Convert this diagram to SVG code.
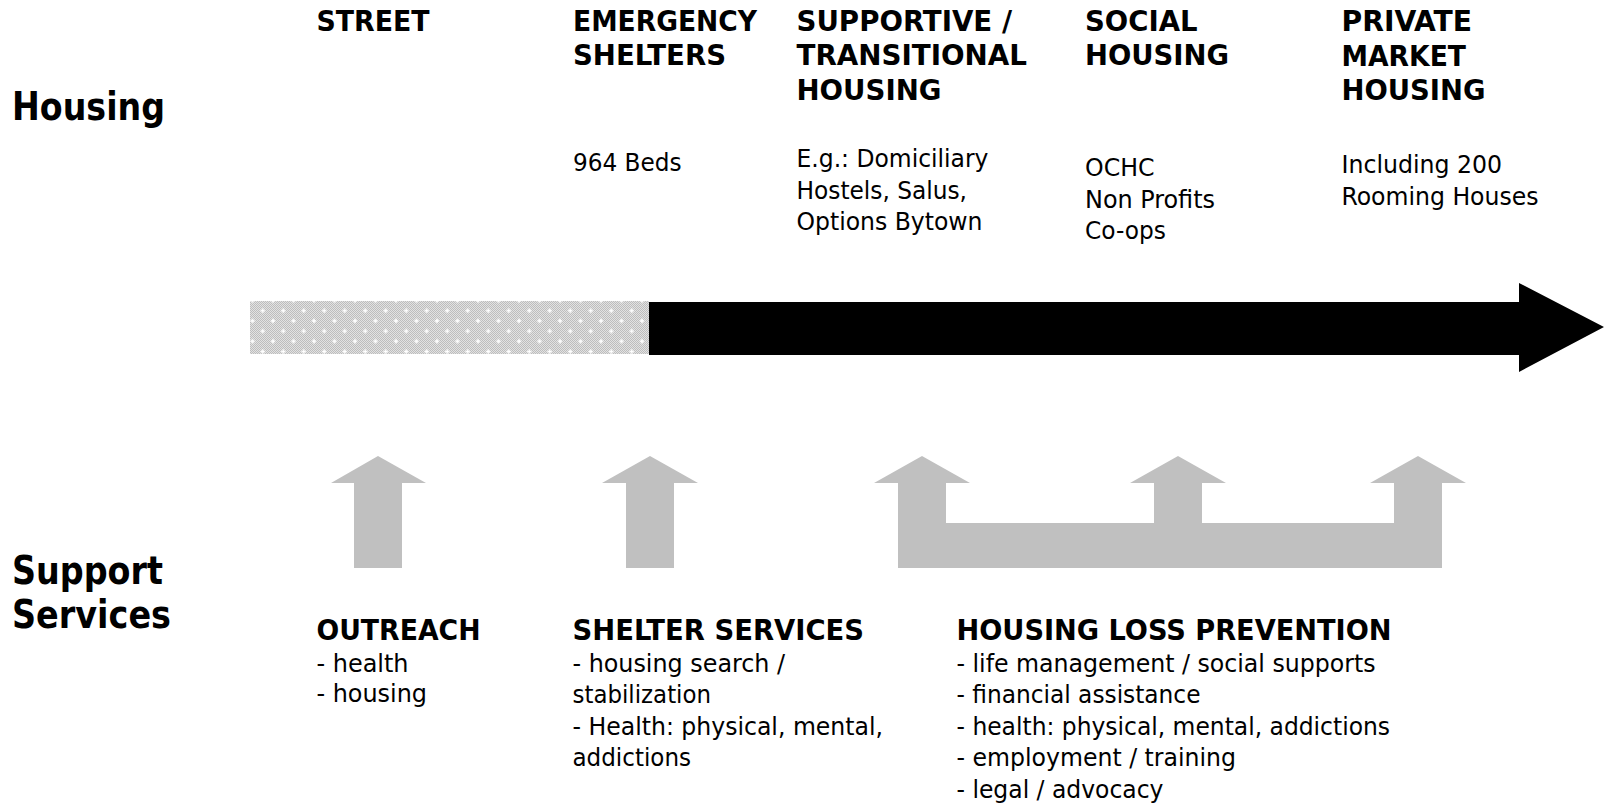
<svg xmlns="http://www.w3.org/2000/svg" width="1604" height="807" viewBox="0 0 1604 807">
  <style>
    text { font-family: "DejaVu Sans Condensed", "DejaVu Sans", sans-serif; fill: #000; }
    .big { font-size: 39px; font-weight: bold; }
    .hd { font-size: 29px; font-weight: bold; }
    .tx { font-size: 25px; }
    .grey { fill: #c0c0c0; }
  </style>
  <defs>
    <!-- fine dither for the street segment -->
    <pattern id="dither" patternUnits="userSpaceOnUse" x="0" y="0" width="2" height="2">
      <rect width="2" height="2" fill="#e2e2e2"/>
      <rect width="1" height="1" fill="#bdbdbd"/>
      <rect x="1" y="1" width="1" height="1" fill="#bdbdbd"/>
    </pattern>
    <!-- staggered white sparkles on top of the dither -->
    <pattern id="sparkle" patternUnits="userSpaceOnUse" x="252.5" y="300.5" width="20.5" height="20.4">
      <g fill="#ffffff">
        <rect x="9.5" y="8" width="1.5" height="4.4"/>
        <rect x="8" y="9.5" width="4.4" height="1.5"/>
        <rect x="-0.75" y="-2.2" width="1.5" height="4.4"/>
        <rect x="-2.2" y="-0.75" width="4.4" height="1.5"/>
        <rect x="19.75" y="-2.2" width="1.5" height="4.4"/>
        <rect x="18.3" y="-0.75" width="4.4" height="1.5"/>
        <rect x="-0.75" y="18.2" width="1.5" height="4.4"/>
        <rect x="-2.2" y="19.65" width="4.4" height="1.5"/>
        <rect x="19.75" y="18.2" width="1.5" height="4.4"/>
        <rect x="18.3" y="19.65" width="4.4" height="1.5"/>
      </g>
    </pattern>
  </defs>

  <rect width="1604" height="807" fill="#ffffff"/>

  <!-- row labels -->
  <g id="label-housing">
    <text class="big" x="12" y="119.5" textLength="153" lengthAdjust="spacingAndGlyphs">Housing</text>
  </g>
  <g id="label-support">
    <text class="big" x="12" y="583.5" textLength="151" lengthAdjust="spacingAndGlyphs">Support</text>
    <text class="big" x="12" y="627.5" textLength="159" lengthAdjust="spacingAndGlyphs">Services</text>
  </g>

  <!-- housing continuum stages -->
  <g id="stage-street">
    <text class="hd" x="316.5" y="31" textLength="113" lengthAdjust="spacingAndGlyphs">STREET</text>
  </g>
  <g id="stage-emergency">
    <text class="hd" x="573" y="31" textLength="184" lengthAdjust="spacingAndGlyphs">EMERGENCY</text>
    <text class="hd" x="573" y="65" textLength="153" lengthAdjust="spacingAndGlyphs">SHELTERS</text>
    <text class="tx" x="573" y="170.5" textLength="108.5" lengthAdjust="spacingAndGlyphs">964 Beds</text>
  </g>
  <g id="stage-supportive">
    <text class="hd" x="796.5" y="31" textLength="215.5" lengthAdjust="spacingAndGlyphs">SUPPORTIVE /</text>
    <text class="hd" x="796.5" y="65" textLength="230.5" lengthAdjust="spacingAndGlyphs">TRANSITIONAL</text>
    <text class="hd" x="796.5" y="100" textLength="145" lengthAdjust="spacingAndGlyphs">HOUSING</text>
    <text class="tx" x="796.5" y="167" textLength="192" lengthAdjust="spacingAndGlyphs">E.g.: Domiciliary</text>
    <text class="tx" x="796.5" y="198.5" textLength="170.5" lengthAdjust="spacingAndGlyphs">Hostels, Salus,</text>
    <text class="tx" x="796.5" y="230" textLength="186" lengthAdjust="spacingAndGlyphs">Options Bytown</text>
  </g>
  <g id="stage-social">
    <text class="hd" x="1085" y="31" textLength="112.5" lengthAdjust="spacingAndGlyphs">SOCIAL</text>
    <text class="hd" x="1085" y="65" textLength="144" lengthAdjust="spacingAndGlyphs">HOUSING</text>
    <text class="tx" x="1085" y="176" textLength="69.5" lengthAdjust="spacingAndGlyphs">OCHC</text>
    <text class="tx" x="1085" y="207.5" textLength="130" lengthAdjust="spacingAndGlyphs">Non Profits</text>
    <text class="tx" x="1085" y="239" textLength="81" lengthAdjust="spacingAndGlyphs">Co-ops</text>
  </g>
  <g id="stage-private">
    <text class="hd" x="1341.5" y="31" textLength="130.5" lengthAdjust="spacingAndGlyphs">PRIVATE</text>
    <text class="hd" x="1341.5" y="65.5" textLength="124.5" lengthAdjust="spacingAndGlyphs">MARKET</text>
    <text class="hd" x="1341.5" y="100" textLength="144" lengthAdjust="spacingAndGlyphs">HOUSING</text>
    <text class="tx" x="1341.5" y="173.3" textLength="160.5" lengthAdjust="spacingAndGlyphs">Including 200</text>
    <text class="tx" x="1341.5" y="204.5" textLength="197" lengthAdjust="spacingAndGlyphs">Rooming Houses</text>
  </g>

  <!-- support services -->
  <g id="service-outreach">
    <text class="hd" x="316.5" y="640" textLength="164" lengthAdjust="spacingAndGlyphs">OUTREACH</text>
    <text class="tx" x="316.5" y="671.7" textLength="92" lengthAdjust="spacingAndGlyphs">- health</text>
    <text class="tx" x="316.5" y="702" textLength="110.5" lengthAdjust="spacingAndGlyphs">- housing</text>
  </g>
  <g id="service-shelter">
    <text class="hd" x="572.5" y="640" textLength="291.5" lengthAdjust="spacingAndGlyphs">SHELTER SERVICES</text>
    <text class="tx" x="572.5" y="671.7" textLength="212.5" lengthAdjust="spacingAndGlyphs">- housing search /</text>
    <text class="tx" x="572.5" y="703" textLength="138.5" lengthAdjust="spacingAndGlyphs">stabilization</text>
    <text class="tx" x="572.5" y="734.5" textLength="310.5" lengthAdjust="spacingAndGlyphs">- Health: physical, mental,</text>
    <text class="tx" x="572.5" y="766" textLength="118.5" lengthAdjust="spacingAndGlyphs">addictions</text>
  </g>
  <g id="service-prevention">
    <text class="hd" x="956.5" y="640" textLength="435" lengthAdjust="spacingAndGlyphs">HOUSING LOSS PREVENTION</text>
    <text class="tx" x="956.5" y="671.7" textLength="419" lengthAdjust="spacingAndGlyphs">- life management / social supports</text>
    <text class="tx" x="956.5" y="703.2" textLength="244" lengthAdjust="spacingAndGlyphs">- financial assistance</text>
    <text class="tx" x="956.5" y="734.8" textLength="433.5" lengthAdjust="spacingAndGlyphs">- health: physical, mental, addictions</text>
    <text class="tx" x="956.5" y="766.4" textLength="279.5" lengthAdjust="spacingAndGlyphs">- employment / training</text>
    <text class="tx" x="956.5" y="798" textLength="207" lengthAdjust="spacingAndGlyphs">- legal / advocacy</text>
  </g>

  <!-- arrows -->
  <g id="connectors">
    <!-- continuum arrow: dithered street segment, then solid black with head -->
    <rect x="250" y="301" width="399" height="53" fill="url(#dither)"/>
    <rect x="250" y="301" width="399" height="53" fill="url(#sparkle)"/>
    <polygon fill="#000000" points="649,302 1519,302 1519,283 1604,327 1519,372 1519,355 649,355"/>

    <!-- service arrows pointing up to the stages -->
    <polygon class="grey" points="354,568 354,483 331,483 378,456 426,483 402,483 402,568"/>
    <polygon class="grey" points="626,568 626,483 602,483 650,456 698,483 674,483 674,568"/>
    <polygon class="grey" points="898,568 898,483 874,483 922,456 970,483 946,483 946,523 1154,523 1154,483 1130,483 1178,456 1226,483 1202,483 1202,523 1394,523 1394,483 1370,483 1418,456 1466,483 1442,483 1442,568"/>
  </g>
</svg>
